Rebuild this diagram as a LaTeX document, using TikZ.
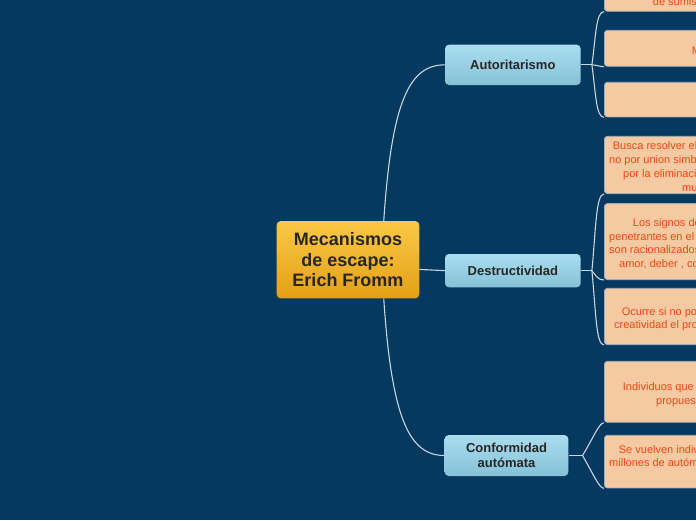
\documentclass[tikz,border=0pt]{standalone}
\usepackage{fontspec}
\setmainfont{Liberation Sans}
\usetikzlibrary{calc}
\definecolor{bg}{RGB}{6,57,96}
\definecolor{linkc}{RGB}{200,212,222}
\definecolor{leaffill}{RGB}{245,201,161}
\definecolor{leafdraw}{RGB}{160,172,186}
\definecolor{leaftext}{RGB}{242,72,22}
\definecolor{goldtop}{RGB}{252,200,70}
\definecolor{goldbot}{RGB}{226,160,22}
\definecolor{bluetop}{RGB}{170,221,240}
\definecolor{bluebot}{RGB}{134,193,215}
\definecolor{ink}{RGB}{40,38,36}
\begin{document}
\begin{tikzpicture}[x=1pt,y=-1pt,
  central/.style={rounded corners=4pt, top color=goldtop, bottom color=goldbot, draw=none,
    inner sep=0pt, minimum width=142.6pt, minimum height=77.3pt, align=center, text=ink,
    font=\fontsize{18pt}{20.8pt}\selectfont\bfseries},
  branch/.style={rounded corners=4pt, top color=bluetop, bottom color=bluebot, draw=none,
    inner sep=0pt, align=center, text=ink, font=\fontsize{13pt}{15pt}\selectfont\bfseries},
  leaf/.style={rounded corners=3pt, fill=leaffill, draw=leafdraw, line width=0.8pt,
    inner sep=0pt, anchor=south west, minimum width=200pt},
  ltext/.style={anchor=base west, inner sep=0pt, text=leaftext,
    font=\fontsize{11pt}{13.5pt}\selectfont},
  link/.style={draw=linkc, line width=1.1pt}]
\useasboundingbox (0,0) rectangle (696,520);
\fill[bg] (0,0) rectangle (696,520);
\clip (0,0) rectangle (696,520);

% central and branch nodes
\node[central] (M) at (348,259.7) {Mecanismos\\de escape:\\Erich Fromm};
\node[branch, minimum width=135.7pt, minimum height=40.3pt] (A) at (512.85,64.85) {Autoritarismo};
\node[branch, minimum width=135.7pt, minimum height=33.3pt] (D) at (512.85,270.65) {Destructividad};
\node[branch, minimum width=123.6pt, minimum height=41pt] (C) at (506.5,455.5) {Conformidad\\autómata};

% leaf boxes
\node[leaf, minimum height=60pt] (a1) at (604,11.7) {};
\node[leaf, minimum height=36pt] (a2) at (604,66.7) {};
\node[leaf, minimum height=34.6pt] (a3) at (604,117.3) {};
\node[leaf, minimum height=57.3pt] (d1) at (604,194) {};
\node[leaf, minimum height=76pt] (d2) at (604,280) {};
\node[leaf, minimum height=56.3pt] (d3) at (604,345) {};
\node[leaf, minimum height=61pt] (c1) at (604,422.7) {};
\node[leaf, minimum height=52.6pt] (c2) at (604,488.3) {};

% leaf texts
\node[ltext] (a1t1) at (652.7,5) {de sumisión};
\node[ltext] (a2t1) at (691.7,54) {Miedo};
\node[ltext] (d1t1) at (612.7,149.3) {Busca resolver el sentimiento};
\node[ltext] (d1t2) at (609,163.3) {no por union simbiótica sino};
\node[ltext] (d1t3) at (623,177.3) {por la eliminación del};
\node[ltext] (d1t4) at (682,191) {mundo};
\node[ltext] (d2t1) at (632.7,226) {Los signos de destructividad};
\node[ltext] (d2t2) at (609,240) {penetrantes en el mundo};
\node[ltext] (d2t3) at (609,253.3) {son racionalizados como};
\node[ltext] (d2t4) at (619,267.3) {amor, deber , conciencia};
\node[ltext] (d3t1) at (621.7,315.7) {Ocurre si no podemos};
\node[ltext] (d3t2) at (614,328.3) {creatividad el producto};
\node[ltext] (c1t1) at (622.7,390) {Individuos que se someten};
\node[ltext] (c1t2) at (656,404.7) {propuestas};
\node[ltext] (c2t1) at (618.7,453) {Se vuelven individuos};
\node[ltext] (c2t2) at (609,466.3) {millones de autómatas};

% central connectors
\coordinate (mt) at ($(M.north west)!0.75!(M.north east)$);
\coordinate (mb) at ($(M.south west)!0.75!(M.south east)$);
\coordinate (mr) at ($(M.north east)!0.625!(M.south east)$);
\draw[link] (mt) .. controls +(8,-121) and +(-35,0) .. (A.west);
\draw[link] (mr) .. controls +(13,0) and +(-13,0) .. (D.west);
\draw[link] (mb) .. controls +(8,121) and +(-35,0) .. (C.west);

% branch points
\coordinate (bA) at ($(A.east)+(11,0)$);
\coordinate (bD) at ($(D.east)+(11,0)$);
\coordinate (bC) at ($(C.east)+(14,0)$);
\draw[link] (A.east) -- (bA);
\draw[link] (D.east) -- (bD);
\draw[link] (C.east) -- (bC);

% leaf connectors
\draw[link] (bA) .. controls +(4,-29) and +(-8,0) .. (a1.south west);
\draw[link] (bA) .. controls +(4,0) and +(-4,0) .. (a2.south west);
\draw[link] (bA) .. controls +(4,29) and +(-8,0) .. (a3.south west);
\draw[link] (bD) .. controls +(4,-42) and +(-8,0) .. (d1.south west);
\draw[link] (bD) .. controls +(4,5) and +(-6,0) .. (d2.south west);
\draw[link] (bD) .. controls +(4,41) and +(-8,0) .. (d3.south west);
\draw[link] (bC) .. controls +(10,-16) and +(-5,0) .. (c1.south west);
\draw[link] (bC) .. controls +(10,17) and +(-5,0) .. (c2.south west);
\end{tikzpicture}
\end{document}
